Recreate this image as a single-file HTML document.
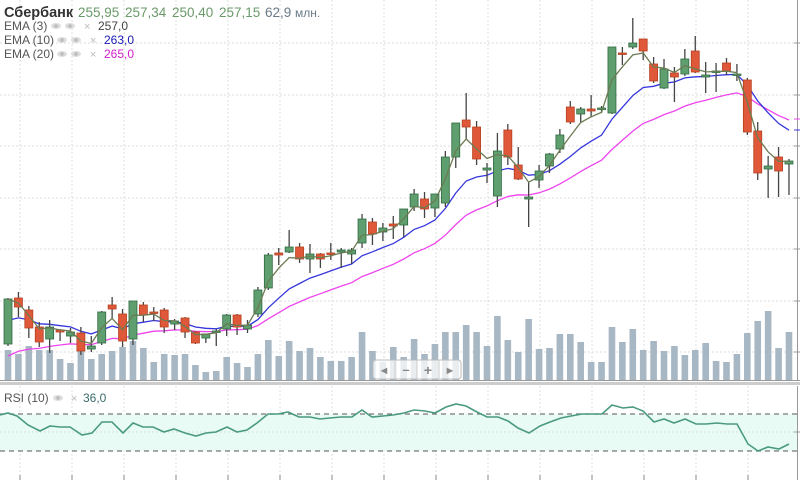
<!DOCTYPE html>
<html><head><meta charset="utf-8"><style>
body{margin:0;background:#fff;width:800px;height:480px;overflow:hidden;font-family:"Liberation Sans","DejaVu Sans",sans-serif}
svg{position:absolute;left:0;top:0}
</style></head><body>
<svg id="c" width="800" height="480" xmlns="http://www.w3.org/2000/svg"></svg>
<script>
const d=[
[344,299,298,346],[298,307,292,317],[310,328,306,338],[327,342,322,347],[339,327,320,353],[330,332,329,341],[336,332,328,343],[333,351,327,355],[349,346,336,352],[343,312,311,345],
[305,309,297,319],[314,341,309,347],[339,301,301,345],[305,315,302,322],[312,313,307,321],[310,327,308,333],[324,321,319,330],[318,332,317,338],[332,343,331,344],[338,334,334,343],
[332,331,329,346],[329,315,314,336],[315,327,314,335],[329,325,320,333],[314,290,287,317],[288,255,253,290],[253,255,248,265],[252,247,230,253],[247,259,243,263],[259,254,244,273],
[254,259,253,268],[253,254,243,260],[252,250,248,268],[254,250,248,264],[243,219,214,248],[222,234,218,245],[232,228,223,241],[224,226,216,239],[225,209,209,237],[207,194,189,211],
[199,209,192,218],[208,194,194,217],[203,157,151,207],[157,123,123,168],[120,127,93,139],[127,159,121,165],[170,168,163,183],[196,151,133,207],[130,157,124,165],[165,179,147,180],
[199,197,182,227],[180,171,165,188],[166,154,153,173],[149,135,129,153],[107,122,101,124],[114,109,107,123],[109,111,95,117],[109,108,106,113],[113,47,47,114],[53,54,47,65],
[47,43,18,49],[39,51,39,60],[64,81,57,83],[88,69,59,89],[73,77,67,102],[74,59,49,76],[51,72,36,73],[77,75,62,93],[72,71,63,92],[63,71,58,75],
[75,74,64,81],[80,132,78,135],[131,173,122,180],[169,166,156,198],[157,171,147,197],[164,161,159,195]];
const vol=[350,354,346,350,350,359,363,351,359,354,351,347,341,348,362,354,355,354,365,372,371,357,363,367,354,340,356,341,351,348,357,361,361,357,332,351,362,347,357,339,354,344,332,332,325,332,346,316,
340,352,319,349,348,334,334,342,362,362,327,342,329,350,341,351,346,355,350,343,361,362,354,333,321,311,348,332];
const X=i=>8+i*10.413;
let s='';
for(let y of [43,95,146,198,249,301,352])s+=`<line x1="0" x2="797" y1="${y}" y2="${y}" stroke="#ddd" stroke-dasharray="2,2"/>`;
for(let x=20;x<797;x+=52)s+=`<line x1="${x}" x2="${x}" y1="0" y2="380" stroke="#ddd" stroke-dasharray="2,2"/><line x1="${x}" x2="${x}" y1="386" y2="480" stroke="#ddd" stroke-dasharray="2,2"/><line x1="${x}" x2="${x}" y1="475" y2="480" stroke="#888"/>`;
vol.forEach((v,i)=>{s+=`<rect x="${X(i)-3.3}" y="${v}" width="6.6" height="${380-v}" fill="#a7b7c4"/>`});
function ema(n,seed){let k=2/(n+1),e=seed,p=[];d.forEach((c,i)=>{e=i==0&&n==3?c[1]:e+k*(c[1]-e);p.push(X(i).toFixed(1)+','+e.toFixed(1))});return p.join(' ')}
s+=`<polyline points="${ema(20,362)}" fill="none" stroke="#ee44ee" stroke-width="1.3"/>`;
s+=`<polyline points="${ema(10,325)}" fill="none" stroke="#3636dd" stroke-width="1.3"/>`;
d.forEach((c,i)=>{let [o,cl,h,l]=c,x=X(i),up=cl<=o,t=Math.min(o,cl),b=Math.max(o,cl);
s+=`<line x1="${x}" x2="${x}" y1="${h}" y2="${l}" stroke="#444" stroke-width="1.3"/>`;
s+=`<rect x="${x-4}" y="${t}" width="8" height="${Math.max(b-t,1.5)}" fill="${up?'#5f9e6f':'#e0583a'}" stroke="${up?'#2f6a40':'#b5401f'}" stroke-width="0.8"/>`});
s+=`<polyline points="${ema(3,0)}" fill="none" stroke="#6b7b52" stroke-width="1.3"/>`;
s+=`<line x1="797.5" x2="797.5" y1="0" y2="380" stroke="#999"/>`;
for(let y of [43,95,146,198,249,301,352])s+=`<line x1="794" x2="800" y1="${y}" y2="${y}" stroke="#999"/>`;
s+=`<line x1="794" x2="800" y1="119" y2="119" stroke="#ee44ee"/><line x1="794" x2="800" y1="130" y2="130" stroke="#3636dd"/>`;
s+=`<rect x="0" y="380" width="800" height="1" fill="#999"/><rect x="0" y="382" width="800" height="3" fill="#ccc"/>`;
s+=`<rect x="0" y="414" width="797" height="37" fill="#e8fbf5"/>`;
s+=`<line x1="0" x2="797" y1="432" y2="432" stroke="#ddd" stroke-dasharray="2,2"/>`;
s+=`<line x1="0" x2="797" y1="414" y2="414" stroke="#777" stroke-dasharray="5,4" stroke-width="1.3"/><line x1="0" x2="797" y1="451" y2="451" stroke="#777" stroke-dasharray="5,4" stroke-width="1.3"/>`;
const r=[[0,415],[8,413],[17,416],[28,425],[40,431],[50,426],[60,427],[70,427],[82,435],[92,433],[102,422],[112,422],[123,433],[133,423],[143,427],[153,427],[164,432],[174,429],[185,433],[196,436],[206,433],[216,432],[227,427],[237,432],[247,430],[257,423],[268,414],[278,414],[288,412],[299,417],[310,417],[320,419],[330,418],[341,417],[352,417],[362,410],[372,417],[383,416],[393,415],[404,413],[414,410],[425,411],[435,413],[446,407],[456,404],[466,406],[477,412],[487,417],[498,417],[508,421],[518,428],[529,433],[540,426],[550,422],[561,418],[571,416],[582,414],[592,414],[602,414],[612,405],[623,408],[633,407],[643,411],[654,422],[664,419],[674,423],[685,419],[696,424],[706,424],[717,423],[727,424],[737,424],[748,444],[758,451],[768,447],[779,449],[789,444]];
s+=`<polyline points="${r.map(p=>p.join(',')).join(' ')}" fill="none" stroke="#4a9a80" stroke-width="1.6"/>`;
s+=`<line x1="797.5" x2="797.5" y1="386" y2="480" stroke="#999"/><line x1="794" x2="800" y1="432" y2="432" stroke="#999"/>`;
s+=`<rect x="373" y="360" width="88" height="19" rx="3" fill="#fff" fill-opacity="0.75" stroke="#bbb"/>`;
for(let k=1;k<4;k++)s+=`<line x1="${373+k*22}" x2="${373+k*22}" y1="360" y2="379" stroke="#ccc"/>`;
s+=`<text x="384" y="374" font-size="11" fill="#888" text-anchor="middle">◄</text><text x="406" y="374" font-size="13" fill="#888" text-anchor="middle" font-weight="bold">–</text><text x="428" y="375" font-size="14" fill="#888" text-anchor="middle" font-weight="bold">+</text><text x="450" y="374" font-size="11" fill="#888" text-anchor="middle">►</text>`;
const F='font-family="Liberation Sans, DejaVu Sans, sans-serif"';
s+=`<text x="4" y="17" ${F} font-size="14.5" font-weight="bold" fill="#333">Сбербанк</text>`;
[[78,'255,95'],[125,'257,34'],[172,'250,40'],[219,'257,15']].forEach(([x,t])=>{s+=`<text x="${x}" y="17" ${F} font-size="13.5" fill="#6a9a6a">${t}</text>`});
s+=`<text x="265" y="17" ${F} font-size="13.5" fill="#6a7a88">62,9 <tspan font-size="12">млн.</tspan></text>`;
function eye(x,y){return `<ellipse cx="${x}" cy="${y}" rx="5" ry="3" fill="#ddd"/><circle cx="${x}" cy="${y}" r="1.8" fill="#bbb"/>`}
[[30,'EMA (3)','257,0','#444',98],[44,'EMA (10)','263,0','#1a1ab8',104],[58,'EMA (20)','265,0','#d020d0',104]].forEach(([y,l,v,c,vx])=>{
s+=`<text x="4" y="${y}" ${F} font-size="12" fill="#555">${l}</text>`+eye(vx-42,y-4)+eye(vx-28,y-4)+`<text x="${vx-14}" y="${y}" ${F} font-size="11" fill="#bbb">×</text><text x="${vx}" y="${y}" ${F} font-size="12" fill="${c}">${v}</text>`});
s+=`<text x="4" y="402" ${F} font-size="12" fill="#555">RSI (10)</text>`+eye(58,398)+`<text x="71" y="402" ${F} font-size="11" fill="#bbb">×</text><text x="83" y="402" ${F} font-size="12" fill="#3a6a6a">36,0</text>`;
document.getElementById('c').innerHTML=s;
</script>
</body></html>
